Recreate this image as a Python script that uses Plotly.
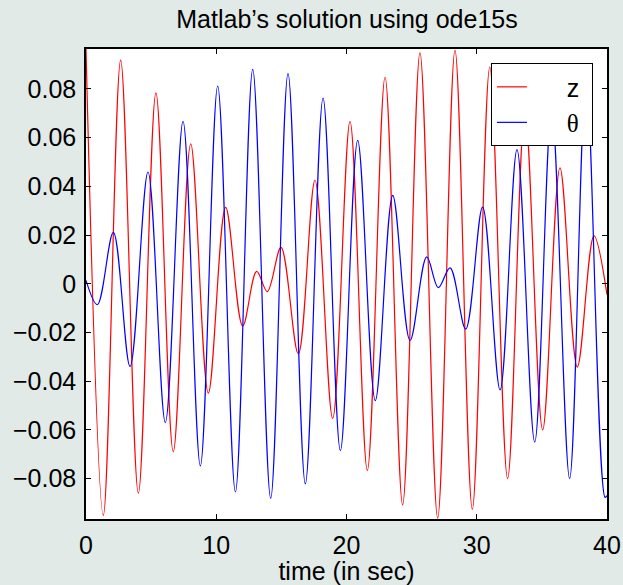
import plotly.graph_objects as go

# z (red) extrema: time (s), value
z_t = [0.0, 1.33, 2.66, 4.02, 5.37, 6.70, 8.04, 9.39, 10.72, 12.03, 13.10, 13.92,
       14.97, 16.30, 17.58, 18.94, 20.27, 21.60, 22.96, 24.31, 25.64, 27.00, 28.33,
       29.66, 31.00, 32.37, 33.70, 35.06, 36.39, 37.72, 39.00, 40.0]
z_v = [0.0964, -0.0951, 0.0918, -0.0860, 0.0784, -0.0690, 0.0575, -0.0449, 0.0314,
       -0.0173, 0.0051, -0.0032, 0.0149, -0.0288, 0.0425, -0.0553, 0.0667, -0.0767,
       0.0848, -0.0908, 0.0948, -0.0962, 0.0958, -0.0926, 0.0890, -0.0800, 0.0710,
       -0.0600, 0.0476, -0.0342, 0.0197, -0.0045]

# theta (blue) extrema
th_t = [0.0, 0.87, 2.10, 3.38, 4.76, 6.09, 7.45, 8.78, 10.11, 11.47, 12.80, 14.18,
        15.51, 16.84, 18.20, 19.53, 20.86, 22.21, 23.55, 24.88, 26.16, 27.05, 27.95,
        29.15, 30.45, 31.79, 33.09, 34.45, 35.75, 37.13, 38.40, 39.85, 40.0]
th_v = [0.0014, -0.0086, 0.0211, -0.0340, 0.0459, -0.0570, 0.0667, -0.0748, 0.0812,
        -0.0855, 0.0880, -0.0881, 0.0863, -0.0822, 0.0762, -0.0685, 0.0589, -0.0480,
        0.0363, -0.0233, 0.0110, -0.0016, 0.0065, -0.0186, 0.0315, -0.0436, 0.0551,
        -0.0650, 0.0720, -0.0800, 0.0840, -0.0877, -0.0870]

x_ticks = [0, 10, 20, 30, 40]
x_labels = ["0", "10", "20", "30", "40"]
y_ticks = [-0.08, -0.06, -0.04, -0.02, 0, 0.02, 0.04, 0.06, 0.08]
y_labels = ["\u22120.08", "\u22120.06", "\u22120.04", "\u22120.02", "0",
            "0.02", "0.04", "0.06", "0.08"]

FONT = "Liberation Sans, Arial, Helvetica, sans-serif"
BG = "#E2EAE7"
NB = "\u00a0"

fig = go.Figure()
fig.add_trace(go.Scatter(x=z_t, y=z_v, mode="lines", name=NB * 5 + "z" + NB,
                         line=dict(color="#FF0000", width=1.2, shape="spline", smoothing=1.0)))
fig.add_trace(go.Scatter(x=th_t, y=th_v, mode="lines",
                         name=NB * 5 + "<span style='font-family:Liberation Serif, serif'>\u03b8</span>" + NB,
                         line=dict(color="#0000FF", width=1.2, shape="spline", smoothing=1.0)))

axis_common = dict(showline=True, linecolor="black", linewidth=1.5, mirror="ticks",
                   ticks="inside", ticklen=5, tickcolor="black", tickwidth=1,
                   showgrid=False, zeroline=False, automargin=False,
                   tickfont=dict(family=FONT, size=25, color="black"))

fig.update_layout(
    width=623, height=585,
    paper_bgcolor=BG, plot_bgcolor="white",
    margin=dict(l=86, r=16, t=49, b=66),
    title=dict(text="Matlab\u2019s solution using ode15s", x=0.557, xanchor="center",
               y=0.967, yanchor="middle", automargin=False,
               font=dict(family=FONT, size=25, color="black")),
    xaxis=dict(range=[0, 40], tickvals=x_ticks, ticktext=x_labels, ticklabelstandoff=3,
               title=dict(text="time (in sec)", standoff=6,
                          font=dict(family=FONT, size=25, color="black")),
               **axis_common),
    yaxis=dict(range=[-0.0966, 0.0964], tickvals=y_ticks, ticktext=y_labels,
               ticklabelstandoff=3, **axis_common),
    legend=dict(x=0.973, xanchor="right", y=0.97, yanchor="top",
                bgcolor="white", bordercolor="black", borderwidth=1,
                font=dict(family=FONT, size=25, color="black"),
                tracegroupgap=0),
    showlegend=True,
)

fig.write_html(
    "out.html",
    config={"displayModeBar": False},
    post_script=(
        "document.body.style.margin='0';"
        "document.body.style.background='" + BG + "';"
        "document.documentElement.style.background='" + BG + "';"
    ),
)
